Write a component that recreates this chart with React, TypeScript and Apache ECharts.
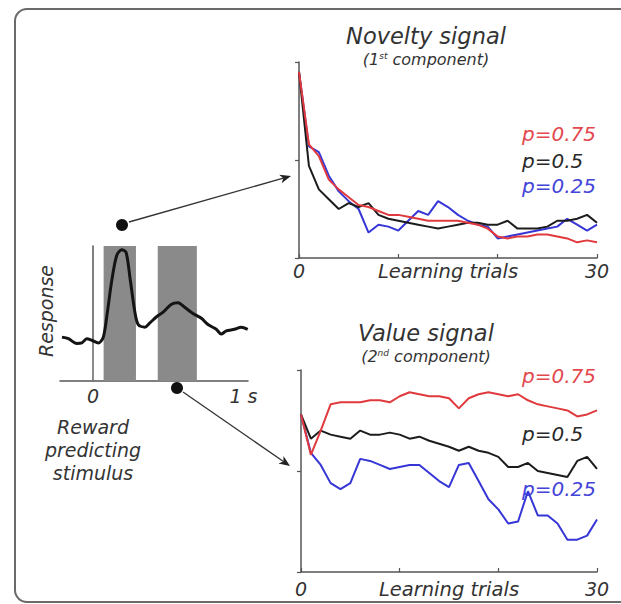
import React, { useEffect, useRef } from "react";
import * as echarts from "echarts";

const FONT = "'DejaVu Sans', Verdana, sans-serif";

// Learning trials (x values)
const trials = [0, 1, 2, 3, 4, 5, 6, 7, 8, 9, 10, 11, 12, 13, 14, 15, 16, 17, 18, 19, 20, 21, 22, 23, 24, 25, 26, 27, 28, 29, 30];

// Novelty signal (1st component)
const noveltyP075 = [0.95, 0.58, 0.52, 0.40, 0.35, 0.31, 0.27, 0.26, 0.24, 0.22, 0.22, 0.21, 0.20, 0.19, 0.19, 0.19, 0.19, 0.18, 0.17, 0.15, 0.11, 0.10, 0.11, 0.11, 0.12, 0.12, 0.11, 0.10, 0.08, 0.09, 0.08];
const noveltyP050 = [0.95, 0.47, 0.35, 0.30, 0.25, 0.28, 0.26, 0.28, 0.22, 0.20, 0.19, 0.18, 0.17, 0.16, 0.15, 0.16, 0.17, 0.18, 0.18, 0.17, 0.17, 0.19, 0.15, 0.15, 0.15, 0.16, 0.19, 0.19, 0.20, 0.22, 0.18];
const noveltyP025 = [0.95, 0.57, 0.54, 0.42, 0.34, 0.29, 0.25, 0.13, 0.17, 0.16, 0.14, 0.19, 0.24, 0.22, 0.29, 0.26, 0.22, 0.19, 0.17, 0.16, 0.10, 0.11, 0.12, 0.13, 0.14, 0.15, 0.16, 0.20, 0.17, 0.14, 0.17];

// Value signal (2nd component)
const valueP075 = [0.78, 0.58, 0.70, 0.83, 0.84, 0.84, 0.84, 0.85, 0.85, 0.84, 0.87, 0.89, 0.88, 0.87, 0.87, 0.86, 0.81, 0.86, 0.88, 0.89, 0.88, 0.87, 0.88, 0.85, 0.83, 0.82, 0.81, 0.80, 0.77, 0.78, 0.80];
const valueP050 = [0.78, 0.66, 0.70, 0.68, 0.67, 0.66, 0.70, 0.68, 0.68, 0.69, 0.68, 0.66, 0.67, 0.65, 0.635, 0.62, 0.60, 0.62, 0.60, 0.59, 0.57, 0.52, 0.52, 0.54, 0.50, 0.49, 0.48, 0.47, 0.55, 0.57, 0.51];
const valueP025 = [0.78, 0.59, 0.53, 0.44, 0.41, 0.44, 0.56, 0.55, 0.53, 0.51, 0.52, 0.53, 0.53, 0.49, 0.45, 0.42, 0.53, 0.54, 0.45, 0.36, 0.31, 0.24, 0.25, 0.40, 0.28, 0.28, 0.24, 0.16, 0.16, 0.18, 0.26];

// Response to reward predicting stimulus
const responseTime = [-0.207, -0.164, -0.108, -0.075, -0.042, -0.009, 0.035, 0.068, 0.095, 0.124, 0.157, 0.19, 0.219, 0.245, 0.278, 0.3, 0.344, 0.377, 0.422, 0.466, 0.521, 0.565, 0.609, 0.664, 0.72, 0.764, 0.819, 0.852, 0.885, 0.94, 0.985, 1.028];
const responseValue = [0.325, 0.313, 0.278, 0.282, 0.313, 0.302, 0.282, 0.325, 0.51, 0.742, 0.93, 0.972, 0.954, 0.767, 0.51, 0.418, 0.399, 0.43, 0.476, 0.51, 0.569, 0.58, 0.546, 0.5, 0.465, 0.418, 0.383, 0.348, 0.371, 0.383, 0.399, 0.383];
const windowStart = [0.07, 0.43];
const windowEnd = [0.285, 0.69];
const stimulusOnset = [0, 0.3];

const legendLabels = ["p=0.75", "p=0.5", "p=0.25"];
const seriesColors = ["#e03a3e", "#1c1c1c", "#3636d6"];
const legendColors = ["#e2484d", "#2a2a2a", "#4444d8"];

const pair = (xs: number[], ys: number[]) => xs.map((x, i) => [x, ys[i]]);

const txt = (x: number, y: number, text: string, size: number, color = "#333", extra: any = {}) => ({
  type: "text",
  x,
  y,
  silent: true,
  ...extra,
  style: {
    text,
    fontSize: size,
    fontFamily: FONT,
    fontStyle: "italic",
    fill: color,
    align: extra.align || "center",
    verticalAlign: "middle",
    textAlign: extra.align || "center",
    textVerticalAlign: "middle",
  },
});

const subTitle = (x: number, y: number, num: string, sup: string) => ({
  type: "text",
  x,
  y,
  silent: true,
  style: {
    text: `{n|(${num}}{s|${sup}}{n| component)}`,
    align: "center",
    verticalAlign: "middle",
    textAlign: "center",
    textVerticalAlign: "middle",
    rich: {
      n: { fontSize: 16, fontFamily: FONT, fontStyle: "italic", fill: "#333", color: "#333" },
      s: { fontSize: 9, fontFamily: FONT, fontStyle: "italic", fill: "#333", color: "#333", verticalAlign: "top" },
    },
  },
});

const arrow = (x1: number, y1: number, x2: number, y2: number) => {
  const dx = x2 - x1, dy = y2 - y1;
  const L = Math.hypot(dx, dy);
  const ux = dx / L, uy = dy / L;
  const hl = 11, hw = 4.5;
  const bx = x2 - ux * hl, by = y2 - uy * hl;
  return [
    { type: "line", silent: true, shape: { x1, y1, x2: bx + ux * 3, y2: by + uy * 3 }, style: { stroke: "#333", lineWidth: 1.3 } },
    {
      type: "polygon",
      silent: true,
      shape: { points: [[x2, y2], [bx - uy * hw, by + ux * hw], [bx + ux * 3, by + uy * 3], [bx + uy * hw, by - ux * hw]] },
      style: { fill: "#222" },
    },
  ];
};

const axisLineStyle = { color: "#555", width: 1.5 };
const labelStyle = { fontSize: 19, fontStyle: "italic", fontFamily: FONT, color: "#333" };

const trialXAxis = (gridIndex: number, margin: number) => ({
  type: "value",
  gridIndex,
  min: 0,
  max: 30,
  interval: 10,
  axisLine: { show: true, lineStyle: axisLineStyle },
  axisTick: { show: true, inside: true, length: 4, lineStyle: { color: "#555", width: 1.2 } },
  axisLabel: {
    ...labelStyle,
    margin,
    formatter: (v: number) => (v === 0 || v === 30 ? String(v) : ""),
  },
  splitLine: { show: false },
  name: "Learning trials",
  nameLocation: "middle",
  nameGap: margin,
  nameMoveOverlap: false,
  nameTextStyle: { ...labelStyle, fontSize: 19.5, verticalAlign: "top" },
});

const unitYAxis = (gridIndex: number) => ({
  type: "value",
  gridIndex,
  min: 0,
  max: 1,
  interval: 0.5,
  axisLine: { show: true, lineStyle: axisLineStyle },
  axisTick: { show: true, length: 4, lineStyle: { color: "#555", width: 1.2 } },
  axisLabel: { show: false },
  splitLine: { show: false },
});

export default function App() {
  const ref = useRef<HTMLDivElement>(null);

  useEffect(() => {
    if (!ref.current) return;
    const chart = echarts.init(ref.current, null, { renderer: "svg" });

    const noveltySets = [noveltyP075, noveltyP050, noveltyP025];
    const valueSets = [valueP075, valueP050, valueP025];

    const series: any[] = [];
    noveltySets.forEach((arr, i) => {
      series.push({
        type: "line",
        xAxisIndex: 0,
        yAxisIndex: 0,
        data: pair(trials, arr),
        showSymbol: false,
        symbol: "none",
        lineStyle: { color: seriesColors[i], width: 2 },
        z: 3 + (2 - i),
      });
    });
    valueSets.forEach((arr, i) => {
      series.push({
        type: "line",
        xAxisIndex: 1,
        yAxisIndex: 1,
        data: pair(trials, arr),
        showSymbol: false,
        symbol: "none",
        lineStyle: { color: seriesColors[i], width: 2 },
        z: 3 + (2 - i),
      });
    });
    // analysis windows (grey bars)
    series.push({
      type: "line",
      xAxisIndex: 2,
      yAxisIndex: 2,
      data: [],
      z: 1,
      markArea: {
        silent: true,
        itemStyle: { color: "#8a8a8a", opacity: 1 },
        data: windowStart.map((s, i) => [{ xAxis: s, yAxis: 0 }, { xAxis: windowEnd[i], yAxis: 1 }]),
      },
    });
    series.push({
      type: "line",
      xAxisIndex: 2,
      yAxisIndex: 2,
      data: stimulusOnset.map((v) => [0, v]),
      showSymbol: false,
      symbol: "none",
      lineStyle: { color: "#9a9a9a", width: 1 },
      z: 2,
    });
    series.push({
      type: "line",
      xAxisIndex: 2,
      yAxisIndex: 2,
      data: pair(responseTime, responseValue),
      showSymbol: false,
      symbol: "none",
      smooth: 0.3,
      lineStyle: { color: "#141414", width: 3 },
      z: 4,
    });

    const graphic: any[] = [
      {
        type: "rect",
        silent: true,
        z: -10,
        shape: { x: 15, y: 9, width: 640, height: 593, r: 12 },
        style: { fill: "none", stroke: "#6a6a6a", lineWidth: 2 },
      },
      txt(426, 36, "Novelty signal", 22.5),
      subTitle(426, 59, "1", "st"),
      txt(426, 333, "Value signal", 22.5),
      subTitle(426, 356, "2", "nd"),
      txt(522, 134, legendLabels[0], 20, legendColors[0], { align: "left" }),
      txt(522, 161, legendLabels[1], 20, legendColors[1], { align: "left" }),
      txt(522, 186, legendLabels[2], 20, legendColors[2], { align: "left" }),
      txt(522, 376, legendLabels[0], 20, legendColors[0], { align: "left" }),
      txt(522, 434, legendLabels[1], 20, legendColors[1], { align: "left" }),
      txt(522, 489, legendLabels[2], 20, legendColors[2], { align: "left" }),
      txt(46, 311, "Response", 19, "#333", { rotation: Math.PI / 2 }),
      txt(93, 427, "Reward", 19),
      txt(93, 450, "predicting", 19),
      txt(93, 473, "stimulus", 19),
      { type: "circle", silent: true, shape: { cx: 122, cy: 225, r: 6 }, style: { fill: "#111" } },
      { type: "circle", silent: true, shape: { cx: 177, cy: 388, r: 6 }, style: { fill: "#111" } },
      ...arrow(129, 222, 291, 176),
      ...arrow(183, 392, 290, 466),
    ];

    chart.setOption({
      animation: false,
      backgroundColor: "#ffffff",
      grid: [
        { left: 299, top: 62, width: 298, height: 196, outerBoundsMode: "none", containLabel: false },
        { left: 301, top: 370, width: 296, height: 202, outerBoundsMode: "none", containLabel: false },
        { left: 60, top: 246, width: 188, height: 135, outerBoundsMode: "none", containLabel: false },
      ],
      xAxis: [
        trialXAxis(0, 3),
        trialXAxis(1, 7),
        {
          type: "value",
          gridIndex: 2,
          min: -0.22,
          max: 1.03,
          axisLine: { show: true, lineStyle: axisLineStyle },
          axisTick: { show: false },
          axisLabel: {
            ...labelStyle,
            margin: 5,
            customValues: [0, 1],
            formatter: (v: number) => (v === 1 ? "1 s" : v === 0 ? "0" : ""),
          },
          splitLine: { show: false },
        },
      ],
      yAxis: [
        unitYAxis(0),
        unitYAxis(1),
        {
          type: "value",
          gridIndex: 2,
          min: 0,
          max: 1,
          axisLine: { show: true, lineStyle: axisLineStyle },
          axisTick: { show: false },
          axisLabel: { show: false },
          splitLine: { show: false },
        },
      ],
      series,
      graphic,
    });

    return () => chart.dispose();
  }, []);

  return (
    <div
      ref={ref}
      style={{ position: "absolute", left: 0, top: 0, width: 621, height: 604, background: "#fff" }}
    />
  );
}
